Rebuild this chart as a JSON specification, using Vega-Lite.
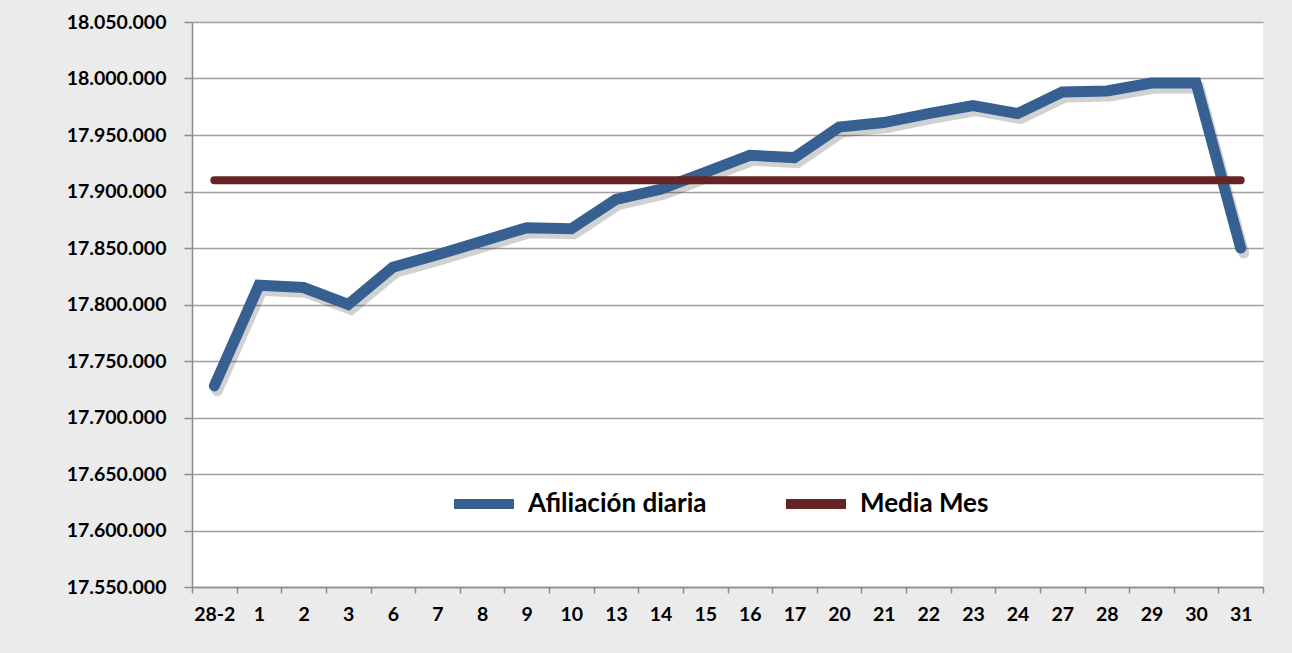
{
  "$schema": "https://vega.github.io/schema/vega-lite/v6.json",
  "width": 1071,
  "height": 565,
  "autosize": {"type": "none"},
  "padding": {"left": 192, "top": 22, "right": 29, "bottom": 66},
  "background": "#ebebeb",
  "config": {
    "locale": {"number": {"decimal": ",", "thousands": ".", "grouping": [3], "currency": ["", " €"]}},
    "view": {"fill": "white", "stroke": null},
    "font": "Lato"
  },
  "data": {
    "values": [
      {"dia": "28-2", "serie": "Afiliación diaria", "afiliados": 17728000},
      {"dia": "1", "serie": "Afiliación diaria", "afiliados": 17817000},
      {"dia": "2", "serie": "Afiliación diaria", "afiliados": 17815000},
      {"dia": "3", "serie": "Afiliación diaria", "afiliados": 17800000},
      {"dia": "6", "serie": "Afiliación diaria", "afiliados": 17833000},
      {"dia": "7", "serie": "Afiliación diaria", "afiliados": 17844000},
      {"dia": "8", "serie": "Afiliación diaria", "afiliados": 17856000},
      {"dia": "9", "serie": "Afiliación diaria", "afiliados": 17868000},
      {"dia": "10", "serie": "Afiliación diaria", "afiliados": 17867000},
      {"dia": "13", "serie": "Afiliación diaria", "afiliados": 17893000},
      {"dia": "14", "serie": "Afiliación diaria", "afiliados": 17902000},
      {"dia": "15", "serie": "Afiliación diaria", "afiliados": 17917000},
      {"dia": "16", "serie": "Afiliación diaria", "afiliados": 17932000},
      {"dia": "17", "serie": "Afiliación diaria", "afiliados": 17930000},
      {"dia": "20", "serie": "Afiliación diaria", "afiliados": 17957000},
      {"dia": "21", "serie": "Afiliación diaria", "afiliados": 17961000},
      {"dia": "22", "serie": "Afiliación diaria", "afiliados": 17969000},
      {"dia": "23", "serie": "Afiliación diaria", "afiliados": 17976000},
      {"dia": "24", "serie": "Afiliación diaria", "afiliados": 17969000},
      {"dia": "27", "serie": "Afiliación diaria", "afiliados": 17988000},
      {"dia": "28", "serie": "Afiliación diaria", "afiliados": 17989000},
      {"dia": "29", "serie": "Afiliación diaria", "afiliados": 17996000},
      {"dia": "30", "serie": "Afiliación diaria", "afiliados": 17996000},
      {"dia": "31", "serie": "Afiliación diaria", "afiliados": 17850000},
      {"dia": "28-2", "serie": "Media Mes", "afiliados": 17910000},
      {"dia": "1", "serie": "Media Mes", "afiliados": 17910000},
      {"dia": "2", "serie": "Media Mes", "afiliados": 17910000},
      {"dia": "3", "serie": "Media Mes", "afiliados": 17910000},
      {"dia": "6", "serie": "Media Mes", "afiliados": 17910000},
      {"dia": "7", "serie": "Media Mes", "afiliados": 17910000},
      {"dia": "8", "serie": "Media Mes", "afiliados": 17910000},
      {"dia": "9", "serie": "Media Mes", "afiliados": 17910000},
      {"dia": "10", "serie": "Media Mes", "afiliados": 17910000},
      {"dia": "13", "serie": "Media Mes", "afiliados": 17910000},
      {"dia": "14", "serie": "Media Mes", "afiliados": 17910000},
      {"dia": "15", "serie": "Media Mes", "afiliados": 17910000},
      {"dia": "16", "serie": "Media Mes", "afiliados": 17910000},
      {"dia": "17", "serie": "Media Mes", "afiliados": 17910000},
      {"dia": "20", "serie": "Media Mes", "afiliados": 17910000},
      {"dia": "21", "serie": "Media Mes", "afiliados": 17910000},
      {"dia": "22", "serie": "Media Mes", "afiliados": 17910000},
      {"dia": "23", "serie": "Media Mes", "afiliados": 17910000},
      {"dia": "24", "serie": "Media Mes", "afiliados": 17910000},
      {"dia": "27", "serie": "Media Mes", "afiliados": 17910000},
      {"dia": "28", "serie": "Media Mes", "afiliados": 17910000},
      {"dia": "29", "serie": "Media Mes", "afiliados": 17910000},
      {"dia": "30", "serie": "Media Mes", "afiliados": 17910000},
      {"dia": "31", "serie": "Media Mes", "afiliados": 17910000}
    ]
  },
  "encoding": {
    "x": {
      "field": "dia",
      "type": "nominal",
      "sort": ["28-2","1","2","3","6","7","8","9","10","13","14","15","16","17","20","21","22","23","24","27","28","29","30","31"],
      "scale": {"paddingInner": 0, "paddingOuter": 0},
      "axis": {
        "title": null,
        "labelAngle": 0,
        "tickBand": "extent",
        "domainColor": "#8c8c8c",
        "domainWidth": 1.5,
        "tickColor": "#8c8c8c",
        "tickWidth": 1.5,
        "tickSize": 6,
        "labelPadding": 12,
        "labelFont": "Lato",
        "labelFontSize": 19.5,
        "labelFontWeight": "bold",
        "labelColor": "#000000",
        "grid": false
      }
    },
    "y": {
      "field": "afiliados",
      "type": "quantitative",
      "scale": {"domain": [17550000, 18050000], "nice": false, "zero": false},
      "axis": {
        "title": null,
        "values": [17550000, 17600000, 17650000, 17700000, 17750000, 17800000, 17850000, 17900000, 17950000, 18000000, 18050000],
        "format": ",d",
        "domainColor": "#8c8c8c",
        "domainWidth": 1.5,
        "tickColor": "#8c8c8c",
        "tickWidth": 1.5,
        "tickSize": 8,
        "labelPadding": 18,
        "labelFont": "Lato",
        "labelFontSize": 19.5,
        "labelFontWeight": "bold",
        "labelColor": "#000000",
        "grid": true,
        "gridColor": "#a0a0a0",
        "gridWidth": 1.5
      }
    }
  },
  "layer": [
    {
      "transform": [{"filter": "datum.serie === 'Afiliación diaria'"}],
      "mark": {"type": "line", "color": "#000000", "opacity": 0.18, "strokeWidth": 11, "strokeCap": "round", "xOffset": 3, "yOffset": 5}
    },
    {
      "transform": [{"filter": "datum.serie === 'Afiliación diaria'"}],
      "mark": {"type": "line", "strokeWidth": 11, "strokeCap": "round"},
      "encoding": {
        "color": {
          "field": "serie",
          "type": "nominal",
          "scale": {"domain": ["Afiliación diaria", "Media Mes"], "range": ["#376092", "#672424"]},
          "legend": {
            "title": null,
            "orient": "none",
            "direction": "horizontal",
            "legendX": 257,
            "legendY": 447,
            "symbolType": "stroke",
            "symbolSize": 3600,
            "symbolStrokeWidth": 10,
            "labelOffset": 9,
            "labelLimit": 0,
            "columnPadding": 59,
            "labelFont": "Lato",
            "labelFontSize": 26,
            "labelFontWeight": "bold",
            "labelColor": "#000000"
          }
        }
      }
    },
    {
      "transform": [{"filter": "datum.serie === 'Media Mes'"}],
      "mark": {"type": "line", "strokeWidth": 8, "strokeCap": "round"},
      "encoding": {
        "color": {"field": "serie", "type": "nominal"}
      }
    }
  ]
}
